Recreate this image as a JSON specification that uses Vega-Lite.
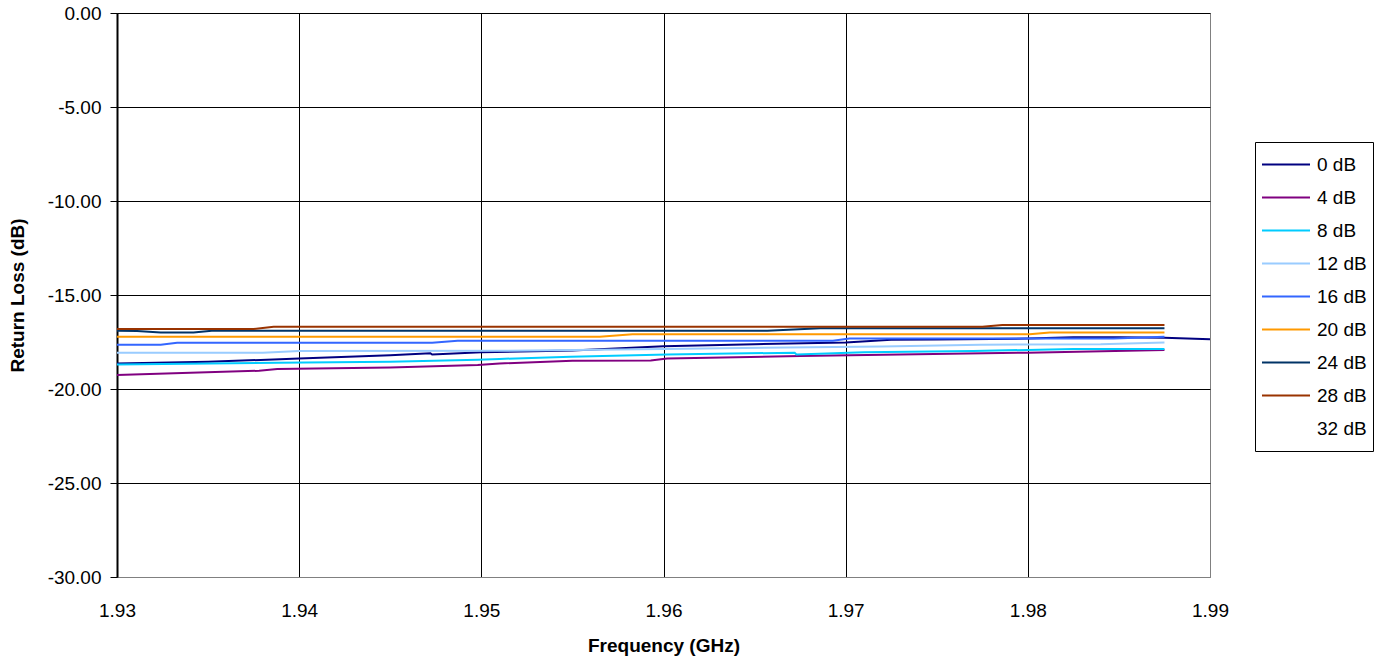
{
  "$schema": "https://vega.github.io/schema/vega-lite/v6.json",
  "width": 1093,
  "height": 564,
  "autosize": {"type": "none"},
  "padding": {"left": 117, "top": 13, "right": 183, "bottom": 84},
  "background": "white",
  "config": {
    "font": "Liberation Sans",
    "view": {"stroke": "#808080", "strokeWidth": 1}
  },
  "data": {
    "values": [
      {"series": "0 dB", "freq": 1.930, "rl": -18.64},
      {"series": "0 dB", "freq": 1.935, "rl": -18.55},
      {"series": "0 dB", "freq": 1.940, "rl": -18.38},
      {"series": "0 dB", "freq": 1.945, "rl": -18.2},
      {"series": "0 dB", "freq": 1.9472, "rl": -18.1},
      {"series": "0 dB", "freq": 1.9473, "rl": -18.17},
      {"series": "0 dB", "freq": 1.950, "rl": -18.05},
      {"series": "0 dB", "freq": 1.955, "rl": -17.95},
      {"series": "0 dB", "freq": 1.960, "rl": -17.72},
      {"series": "0 dB", "freq": 1.965, "rl": -17.62},
      {"series": "0 dB", "freq": 1.970, "rl": -17.52},
      {"series": "0 dB", "freq": 1.9725, "rl": -17.38},
      {"series": "0 dB", "freq": 1.975, "rl": -17.37},
      {"series": "0 dB", "freq": 1.980, "rl": -17.32},
      {"series": "0 dB", "freq": 1.9825, "rl": -17.25},
      {"series": "0 dB", "freq": 1.985, "rl": -17.25},
      {"series": "0 dB", "freq": 1.9875, "rl": -17.27},
      {"series": "0 dB", "freq": 1.990, "rl": -17.36},

      {"series": "4 dB", "freq": 1.930, "rl": -19.26},
      {"series": "4 dB", "freq": 1.9378, "rl": -19.03},
      {"series": "4 dB", "freq": 1.9388, "rl": -18.93},
      {"series": "4 dB", "freq": 1.945, "rl": -18.85},
      {"series": "4 dB", "freq": 1.9498, "rl": -18.72},
      {"series": "4 dB", "freq": 1.951, "rl": -18.64},
      {"series": "4 dB", "freq": 1.955, "rl": -18.5},
      {"series": "4 dB", "freq": 1.9593, "rl": -18.48},
      {"series": "4 dB", "freq": 1.9602, "rl": -18.38},
      {"series": "4 dB", "freq": 1.9675, "rl": -18.25},
      {"series": "4 dB", "freq": 1.973, "rl": -18.16},
      {"series": "4 dB", "freq": 1.980, "rl": -18.07},
      {"series": "4 dB", "freq": 1.9875, "rl": -17.93},

      {"series": "8 dB", "freq": 1.930, "rl": -18.7},
      {"series": "8 dB", "freq": 1.9388, "rl": -18.6},
      {"series": "8 dB", "freq": 1.945, "rl": -18.55},
      {"series": "8 dB", "freq": 1.9498, "rl": -18.45},
      {"series": "8 dB", "freq": 1.951, "rl": -18.4},
      {"series": "8 dB", "freq": 1.9549, "rl": -18.28},
      {"series": "8 dB", "freq": 1.9602, "rl": -18.16},
      {"series": "8 dB", "freq": 1.9672, "rl": -18.07},
      {"series": "8 dB", "freq": 1.9673, "rl": -18.16},
      {"series": "8 dB", "freq": 1.971, "rl": -18.05},
      {"series": "8 dB", "freq": 1.977, "rl": -17.98},
      {"series": "8 dB", "freq": 1.9825, "rl": -17.87},
      {"series": "8 dB", "freq": 1.9875, "rl": -17.87},

      {"series": "12 dB", "freq": 1.930, "rl": -18.07},
      {"series": "12 dB", "freq": 1.938, "rl": -18.07},
      {"series": "12 dB", "freq": 1.940, "rl": -17.98},
      {"series": "12 dB", "freq": 1.951, "rl": -17.97},
      {"series": "12 dB", "freq": 1.960, "rl": -17.87},
      {"series": "12 dB", "freq": 1.972, "rl": -17.74},
      {"series": "12 dB", "freq": 1.9774, "rl": -17.64},
      {"series": "12 dB", "freq": 1.984, "rl": -17.62},
      {"series": "12 dB", "freq": 1.9875, "rl": -17.52},

      {"series": "16 dB", "freq": 1.930, "rl": -17.64},
      {"series": "16 dB", "freq": 1.9324, "rl": -17.64},
      {"series": "16 dB", "freq": 1.9333, "rl": -17.54},
      {"series": "16 dB", "freq": 1.9473, "rl": -17.54},
      {"series": "16 dB", "freq": 1.9487, "rl": -17.43},
      {"series": "16 dB", "freq": 1.9693, "rl": -17.43},
      {"series": "16 dB", "freq": 1.9702, "rl": -17.32},
      {"series": "16 dB", "freq": 1.9847, "rl": -17.32},
      {"series": "16 dB", "freq": 1.9875, "rl": -17.22},

      {"series": "20 dB", "freq": 1.930, "rl": -17.22},
      {"series": "20 dB", "freq": 1.9565, "rl": -17.22},
      {"series": "20 dB", "freq": 1.9583, "rl": -17.09},
      {"series": "20 dB", "freq": 1.9801, "rl": -17.09},
      {"series": "20 dB", "freq": 1.9812, "rl": -16.99},
      {"series": "20 dB", "freq": 1.9875, "rl": -16.99},

      {"series": "24 dB", "freq": 1.930, "rl": -16.9},
      {"series": "24 dB", "freq": 1.9311, "rl": -16.92},
      {"series": "24 dB", "freq": 1.9324, "rl": -17.0},
      {"series": "24 dB", "freq": 1.9342, "rl": -17.0},
      {"series": "24 dB", "freq": 1.9352, "rl": -16.9},
      {"series": "24 dB", "freq": 1.9657, "rl": -16.9},
      {"series": "24 dB", "freq": 1.9686, "rl": -16.77},
      {"series": "24 dB", "freq": 1.9875, "rl": -16.77},

      {"series": "28 dB", "freq": 1.930, "rl": -16.81},
      {"series": "28 dB", "freq": 1.9375, "rl": -16.81},
      {"series": "28 dB", "freq": 1.9386, "rl": -16.69},
      {"series": "28 dB", "freq": 1.9775, "rl": -16.69},
      {"series": "28 dB", "freq": 1.9786, "rl": -16.6},
      {"series": "28 dB", "freq": 1.9875, "rl": -16.6}
    ]
  },
  "mark": {"type": "line", "strokeWidth": 2, "interpolate": "linear"},
  "encoding": {
    "x": {
      "field": "freq",
      "type": "quantitative",
      "scale": {"domain": [1.93, 1.99], "nice": false, "zero": false},
      "axis": {
        "title": "Frequency (GHz)",
        "titleFontSize": 19,
        "titleFontWeight": "bold",
        "titleColor": "black",
        "titleX": 546.5,
        "titleY": 68,
        "titleBaseline": "middle",
        "titleAlign": "center",
        "values": [1.93, 1.94, 1.95, 1.96, 1.97, 1.98, 1.99],
        "format": ".2f",
        "labelFontSize": 19,
        "labelColor": "black",
        "labelPadding": 24,
        "labelFlush": false,
        "ticks": false,
        "domainColor": "#808080",
        "domainWidth": 1,
        "grid": true,
        "gridColor": {"condition": {"test": "datum.value > 1.985", "value": "#808080"}, "value": "black"},
        "gridOpacity": 1,
        "gridWidth": 1
      }
    },
    "y": {
      "field": "rl",
      "type": "quantitative",
      "scale": {"domain": [-30, 0], "nice": false, "zero": false},
      "axis": {
        "title": "Return Loss (dB)",
        "titleFontSize": 19,
        "titleFontWeight": "bold",
        "titleColor": "black",
        "titleX": -100,
        "titleY": 282,
        "titleAngle": -90,
        "titleBaseline": "middle",
        "titleAlign": "center",
        "values": [0, -5, -10, -15, -20, -25, -30],
        "labelExpr": "replace(format(datum.value, '.2f'), '\u2212', '-')",
        "labelFontSize": 19,
        "labelColor": "black",
        "labelPadding": 9,
        "tickSize": 7,
        "tickColor": "black",
        "tickWidth": 1,
        "domainColor": "black",
        "domainWidth": 2,
        "grid": true,
        "gridColor": {"condition": {"test": "datum.value < -29.5", "value": "#808080"}, "value": "black"},
        "gridOpacity": 1,
        "gridWidth": 1
      }
    },
    "color": {
      "field": "series",
      "type": "nominal",
      "scale": {
        "domain": ["0 dB", "4 dB", "8 dB", "12 dB", "16 dB", "20 dB", "24 dB", "28 dB", "32 dB"],
        "range": ["#000080", "#800080", "#00CCFF", "#99CCFF", "#3366FF", "#FF9900", "#003366", "#993300", "#FFFFFF"]
      },
      "legend": {
        "orient": "none",
        "legendX": 1138,
        "legendY": 129,
        "title": null,
        "symbolType": "stroke",
        "symbolSize": 2304,
        "symbolStrokeWidth": 2,
        "labelFontSize": 19,
        "labelColor": "black",
        "labelOffset": 6,
        "strokeColor": "black",
        "padding": 6,
        "clipHeight": 33,
        "rowPadding": 0
      }
    },
    "order": {"field": "freq", "type": "quantitative"}
  }
}
